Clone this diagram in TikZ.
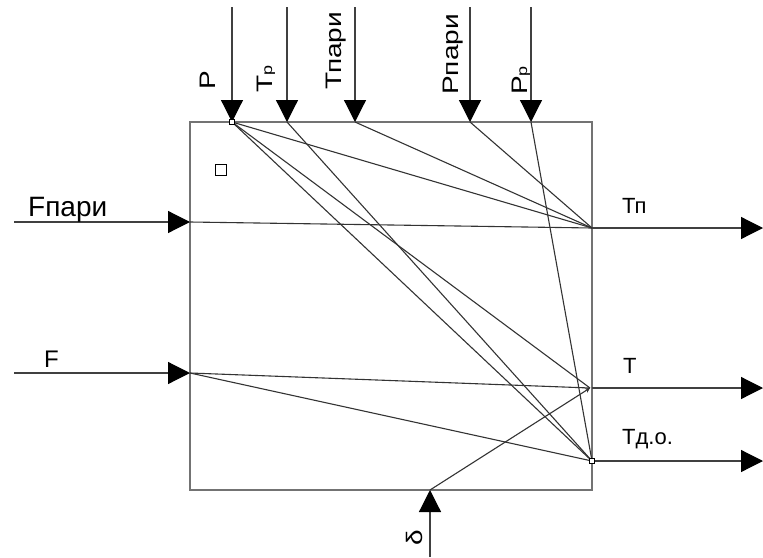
\documentclass[tikz,border=0pt]{standalone}
\usepackage{fontspec}
\setmainfont{Liberation Sans}
\usetikzlibrary{arrows.meta}
\begin{document}
\begin{tikzpicture}[x=1pt,y=-1pt,
  flow/.style={draw=black!75,line width=1.2pt,-{Triangle[length=22pt,width=22pt,color=black,fill=black]}},
  link/.style={draw=black!80,line width=1.1pt},
  frame/.style={draw=black!55,line width=1.3pt},
  vlabel/.style={rotate=90,anchor=base west,inner sep=0pt,font=\fontsize{28}{28}\selectfont},
  hlabel/.style={anchor=base west,inner sep=0pt,font=\fontsize{22}{22}\selectfont},
  pin/.style={draw=black,fill=white,line width=0.8pt,minimum size=5pt,inner sep=0pt}
]
\useasboundingbox (0,0) rectangle (763,557);

% the block
\draw[frame] (190,122) rectangle (592,490);
\node[draw=black,line width=1pt,minimum size=11pt,inner sep=0pt] (mark) at (221,170) {};

% entry points on the block edges
\coordinate (inP) at (232,122);
\coordinate (inTr) at (287,122);
\coordinate (inTpari) at (355,122);
\coordinate (inPpari) at (470,122);
\coordinate (inPr) at (531,122);
\coordinate (inFpari) at (190,222);
\coordinate (inF) at (190,373);
\coordinate (inD) at (430,490);

% exit points
\coordinate (outTn) at (592,228);
\coordinate (outT) at (590,388);
\coordinate (outTdo) at (592,461);
\coordinate (edgeT) at (592,388);

% free ends of the signal lines
\coordinate (srcP) at (232,7);
\coordinate (srcTr) at (287,7);
\coordinate (srcTpari) at (355,7);
\coordinate (srcPpari) at (470,7);
\coordinate (srcPr) at (531,7);
\coordinate (srcFpari) at (14,222);
\coordinate (srcF) at (14,373);
\coordinate (srcD) at (430,557);
\coordinate (endTn) at (763,228);
\coordinate (endT) at (763,388);
\coordinate (endTdo) at (763,461);

% inputs
\draw[flow] (srcP) -- (inP);
\draw[flow] (srcTr) -- (inTr);
\draw[flow] (srcTpari) -- (inTpari);
\draw[flow] (srcPpari) -- (inPpari);
\draw[flow] (srcPr) -- (inPr);
\draw[flow] (srcFpari) -- (inFpari);
\draw[flow] (srcF) -- (inF);
\draw[flow] (srcD) -- (inD);

% outputs
\draw[flow] (outTn) -- (endTn);
\draw[flow] (edgeT) -- (endT);
\draw[flow] (outTdo) -- (endTdo);

% internal couplings
\draw[link] (inP) -- (outTn);
\draw[link] (inP) -- (outT);
\draw[link] (inP) -- (outTdo);
\draw[link] (inTr) -- (outTdo);
\draw[link] (inTpari) -- (outTn);
\draw[link] (inPpari) -- (outTn);
\draw[link] (inPr) -- (outTdo);
\draw[link] (inFpari) -- (outTn);
\draw[link] (inF) -- (outT);
\draw[link] (inF) -- (outTdo);
\draw[link,-{Stealth[length=5pt,width=5pt]}] (inD) -- (outT);

\node[pin] (pinP) at (inP) {};
\node[pin] (pinTdo) at (outTdo) {};

% labels of the inputs
\node[vlabel] (lP) at (215,90) {\scalebox{1}[0.8]{Р}};
\node[vlabel] (lTr) at (272,93) {\scalebox{1}[0.8]{Т{\fontsize{18}{18}\selectfont р}}};
\node[vlabel] (lTpari) at (341,90) {\scalebox{1}[0.8]{Тпари}};
\node[vlabel] (lPpari) at (458,95) {\scalebox{1}[0.8]{Рпари}};
\node[vlabel] (lPr) at (527,95) {\scalebox{1}[0.8]{Р{\fontsize{18}{18}\selectfont р}}};
\node[vlabel] (lD) at (422,546) {\scalebox{1}[0.8]{δ}};
\node[hlabel,font=\fontsize{28}{28}\selectfont] (lFpari) at (28,216) {Fпари};
\node[hlabel,font=\fontsize{24}{24}\selectfont] (lF) at (44,367) {F};

% labels of the outputs
\node[hlabel] (lTn) at (622,213) {Тп};
\node[hlabel] (lT) at (623,373) {Т};
\node[hlabel] (lTdo) at (622,444) {Тд.о.};
\end{tikzpicture}
\end{document}
